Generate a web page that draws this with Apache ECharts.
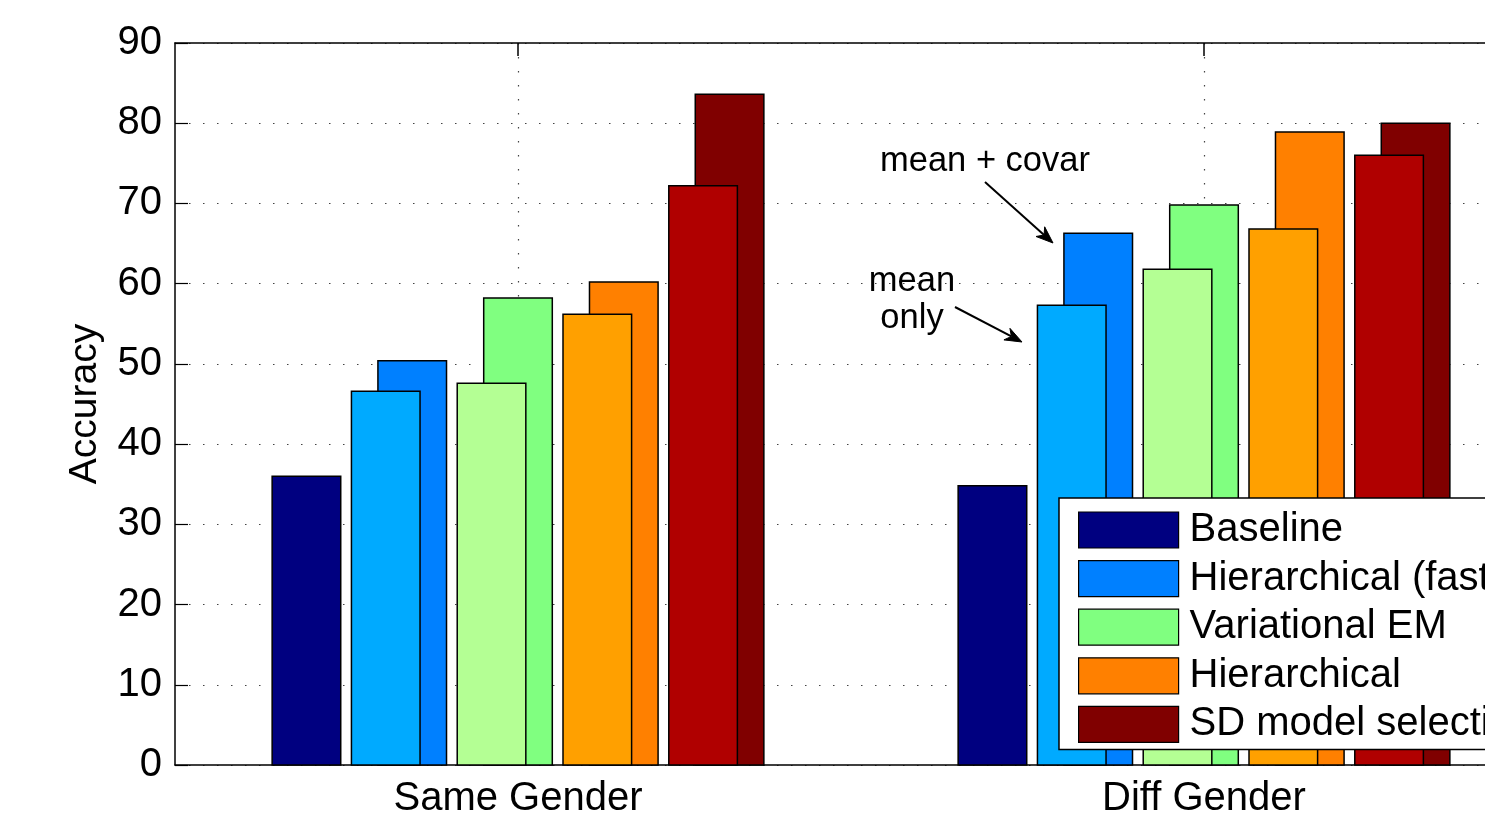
<!DOCTYPE html>
<html>
<head>
<meta charset="utf-8">
<title>Accuracy by gender pairing</title>
<script src="https://cdn.jsdelivr.net/npm/echarts@6/dist/echarts.min.js"></script>
<style>
  html, body { margin: 0; padding: 0; background: #fff; }
  #chart { width: 1485px; height: 817px; }
</style>
</head>
<body>
<div id="chart"></div>
<script>
// Category groups along the x axis
const categories = ['Same Gender', 'Diff Gender'];

// Accuracy per method (mean + covariance variants)
const baseline = [36.0, 34.8];
const hierFast = [50.4, 66.3];
const variationalEM = [58.2, 69.8];
const hierarchical = [60.2, 78.9];
const sdModelSel = [83.6, 80.0];

// Same methods, adapting the mean only
const hierFastMean = [46.6, 57.3];
const variationalEMMean = [47.6, 61.8];
const hierarchicalMean = [56.2, 66.8];
const sdModelSelMean = [72.2, 76.0];

const yTicks = [0, 10, 20, 30, 40, 50, 60, 70, 80, 90];

// Bar geometry as fractions of one category band
const BAR_W = 0.1;
const SLOT = 0.1542;
const FRONT_SHIFT = -0.0386;

const FONT = '"Liberation Sans", Arial, Helvetica, sans-serif';

function makeRender(slot, shift) {
  return function (params, api) {
    const top = api.coord([api.value(0), api.value(1)]);
    const base = api.coord([api.value(0), 0]);
    const band = api.size([1, 0])[0];
    const w = band * BAR_W;
    const cx = top[0] + band * (slot * SLOT + shift);
    return {
      type: 'rect',
      shape: { x: cx - w / 2, y: top[1], width: w, height: base[1] - top[1] },
      style: { fill: api.visual('color'), stroke: '#000', lineWidth: 1.5 }
    };
  };
}

function barSeries(name, values, color, slot, shift, z) {
  return {
    type: 'custom',
    name: name,
    xAxisIndex: 0,
    yAxisIndex: 0,
    z: z,
    silent: true,
    itemStyle: { color: color, borderColor: '#000', borderWidth: 1 },
    renderItem: makeRender(slot, shift),
    encode: { x: 0, y: 1 },
    data: values.map((v, i) => [i, v])
  };
}

const series = [
  barSeries('Baseline', baseline, '#000080', -2, 0, 2),
  barSeries('Hierarchical (fast)', hierFast, '#0080FF', -1, 0, 2),
  barSeries('Variational EM', variationalEM, '#80FF80', 0, 0, 2),
  barSeries('Hierarchical', hierarchical, '#FF8000', 1, 0, 2),
  barSeries('SD model selection', sdModelSel, '#800000', 2, 0, 2),
  barSeries('Hierarchical (fast), mean only', hierFastMean, '#00AAFF', -1, FRONT_SHIFT, 3),
  barSeries('Variational EM, mean only', variationalEMMean, '#B4FF94', 0, FRONT_SHIFT, 3),
  barSeries('Hierarchical, mean only', hierarchicalMean, '#FFA000', 1, FRONT_SHIFT, 3),
  barSeries('SD model selection, mean only', sdModelSelMean, '#B00000', 2, FRONT_SHIFT, 3)
];

// Arrow with a notched, filled head
function arrow(x1, y1, x2, y2) {
  const a = Math.atan2(y2 - y1, x2 - x1);
  const L = 17, H = 6.5, N = 12;
  const px = (d, s) => [x2 - d * Math.cos(a) - s * Math.sin(a), y2 - d * Math.sin(a) + s * Math.cos(a)];
  return [
    { type: 'line', shape: { x1: x1, y1: y1, x2: px(N, 0)[0], y2: px(N, 0)[1] },
      style: { stroke: '#000', lineWidth: 2 }, z: 10 },
    { type: 'polygon', shape: { points: [[x2, y2], px(L, H), px(N, 0), px(L, -H)] },
      style: { fill: '#000', stroke: '#000', lineWidth: 1 }, z: 10 }
  ];
}

const dotted = { color: '#444', width: 1.2, type: [1.5, 12.5] };

const option = {
  backgroundColor: '#fff',
  animation: false,
  textStyle: { fontFamily: FONT },
  // the plot box runs on past the right edge of the page
  grid: { left: 175, top: 43, width: 1372, height: 722, containLabel: false, outerBoundsMode: 'none' },
  legend: {
    orient: 'vertical',
    left: 1059,
    top: 498,
    data: ['Baseline', 'Hierarchical (fast)', 'Variational EM', 'Hierarchical', 'SD model selection'],
    icon: 'rect',
    itemWidth: 100,
    itemHeight: 36,
    itemGap: 8.6,
    padding: [12, 40, 5, 19],
    backgroundColor: '#fff',
    borderColor: '#000',
    borderWidth: 1.5,
    borderRadius: 0,
    selectedMode: false,
    itemStyle: { borderColor: '#000', borderWidth: 1.2 },
    textStyle: { fontFamily: FONT, fontSize: 40, color: '#000', padding: [0, 0, 0, 6] }
  },
  xAxis: [
    {
      type: 'category',
      data: categories,
      position: 'bottom',
      boundaryGap: true,
      axisLine: { show: true, lineStyle: { color: '#000', width: 1.5 } },
      axisTick: { show: true, inside: true, alignWithLabel: true, length: 13, lineStyle: { color: '#000', width: 1.5 } },
      axisLabel: { fontFamily: FONT, fontSize: 40, color: '#000', margin: 14 },
      splitLine: { show: true, alignWithLabel: true, lineStyle: dotted }
    },
    {
      type: 'category',
      data: categories,
      position: 'top',
      boundaryGap: true,
      axisLine: { show: true, lineStyle: { color: '#000', width: 1.5 } },
      axisTick: { show: true, inside: true, alignWithLabel: true, length: 13, lineStyle: { color: '#000', width: 1.5 } },
      axisLabel: { show: false },
      splitLine: { show: false }
    }
  ],
  yAxis: {
    type: 'value',
    min: yTicks[0],
    max: yTicks[yTicks.length - 1],
    interval: 10,
    name: 'Accuracy',
    nameLocation: 'middle',
    nameGap: 70,
    nameTextStyle: { fontFamily: FONT, fontSize: 39, color: '#000' },
    axisLine: { show: true, lineStyle: { color: '#000', width: 1.5 } },
    axisTick: { show: true, inside: true, length: 13, lineStyle: { color: '#000', width: 1.2 } },
    axisLabel: { fontFamily: FONT, fontSize: 40, color: '#000', margin: 13 },
    splitLine: { show: true, lineStyle: dotted }
  },
  series: series,
  graphic: [
    { type: 'text', left: 880, top: 144, z: 10,
      style: { text: 'mean + covar', font: '34.5px ' + FONT, fill: '#000' } },
    { type: 'text', x: 912, y: 300, z: 10,
      style: { text: 'mean\nonly', font: '34.5px ' + FONT, fill: '#000', align: 'center', verticalAlign: 'middle', lineHeight: 37 } }
  ].concat(arrow(985, 182, 1053, 243), arrow(955, 307, 1022, 342))
};

const chart = echarts.init(document.getElementById('chart'), null, { renderer: 'canvas' });
chart.setOption(option);
</script>
</body>
</html>
